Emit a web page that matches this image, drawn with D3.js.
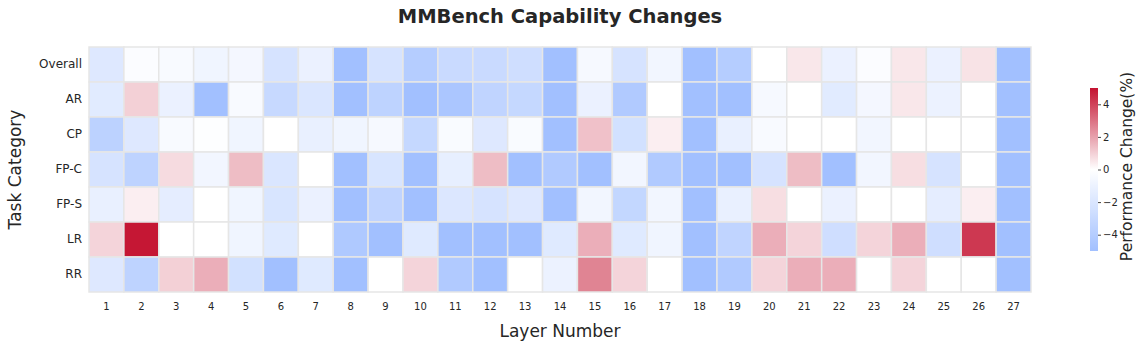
<!DOCTYPE html>
<html lang="en">
<head>
    <meta charset="UTF-8">
    <title>MMBench Capability Changes</title>
    <script src="https://d3js.org/d3.v7.min.js"></script>
    <style>
        body {
            margin: 0;
            background: #ffffff;
            font-family: "DejaVu Sans", sans-serif;
        }
    </style>
</head>
<body>
    <svg width="1142" height="348"></svg>

    <script>
        const layers = d3.range(1, 28);
        const categories = ["Overall", "AR", "CP", "FP-C", "FP-S", "LR", "RR"];
        const colorTicks = [-4, -2, 0, 2, 4];

        // performance change (%) per layer, one array per task category
        const overall = [-1.8, -0.2, -0.4, -0.8, -0.6, -2.2, -1.1, -5, -2.2, -4, -2.9, -2.9, -2.6, -5, -0.5, -2.2, -0.7, -5, -4, 0, 0.5, -1.1, -0.2, 0.5, -1.1, 0.6, -5];
        const ar = [-1.6, 1.0, -1.1, -5, -0.4, -3.0, -2.0, -5, -3.5, -5, -4.5, -3.4, -3.1, -5, -1.1, -4.2, 0, -5, -5, -0.5, 0, -1.6, -0.6, 0.5, -1.0, 0, -5];
        const cp = [-3.6, -1.8, -0.4, -0.1, -0.8, 0, -1.2, -0.8, -0.5, -3.1, -0.3, -1.8, -0.3, -5, 1.3, -2.4, 0.35, -5, -1.2, -0.4, 0, 0, -0.7, 0, 0, 0, -5];
        const fpc = [-2.2, -3.5, 0.75, -0.7, 1.4, -2.0, 0, -5, -2.1, -5, -1.3, 1.4, -5, -4.2, -5, -0.7, -4.2, -5, -5, -2.2, 1.4, -5, -0.7, 0.7, -2.2, 0, -5];
        const fps = [-1.2, 0.35, -1.4, 0, -0.8, -2.1, -1.1, -5, -3.4, -5, -1.9, -2.2, -1.8, -5, -0.7, -3.2, -0.7, -5, -1.2, 0.7, 0, -1.1, 0, 0, -1.4, 0.35, -5];
        const lr = [0.9, 4.9, 0, 0, -0.8, -1.7, 0, -4.3, -5, -1.7, -5, -5, -5, -1.7, 1.7, -1.7, -0.8, -5, -3.4, 1.7, 0.9, -2.6, 0.9, 1.7, -2.6, 4.2, -5];
        const rr = [-1.8, -3.5, 1.0, 1.7, -2.4, -5, -1.7, -5, 0, 0.9, -4.2, -5, 0, -1.0, 2.6, 0.9, 0, -5, -4.2, 0.9, 1.7, 1.7, 0, 0.9, 0, 0, -5];

        const rows = [overall, ar, cp, fpc, fps, lr, rr];
        const cells = [];
        rows.forEach((vals, r) => vals.forEach((v, i) => cells.push({ cat: categories[r], layer: layers[i], value: v })));

        const svg = d3.select("svg");
        const margin = { top: 47, left: 89, right: 111, bottom: 56 };
        const width = 1142, height = 348;

        const x = d3.scaleBand()
            .domain(layers)
            .range([margin.left, width - margin.right]);
        const y = d3.scaleBand()
            .domain(categories)
            .range([margin.top, height - margin.bottom]);

        const color = d3.scaleLinear()
            .domain([-5, 0, 5])
            .range(["#a2c0ff", "#ffffff", "#c41230"])
            .clamp(true);

        // title
        svg.append("text")
            .attr("x", (x.range()[0] + x.range()[1]) / 2)
            .attr("y", 23)
            .attr("text-anchor", "middle")
            .style("font-size", "19.5px")
            .style("font-weight", "bold")
            .style("fill", "#262626")
            .text("MMBench Capability Changes");

        // cells
        svg.append("g")
            .selectAll("rect")
            .data(cells)
            .join("rect")
            .attr("x", d => x(d.layer))
            .attr("y", d => y(d.cat))
            .attr("width", x.bandwidth())
            .attr("height", y.bandwidth())
            .attr("fill", d => color(d.value))
            .attr("stroke", "#e6e6e6")
            .attr("stroke-width", 1.5);

        // axes
        const xAxis = svg.append("g")
            .attr("transform", `translate(0,${height - margin.bottom})`)
            .call(d3.axisBottom(x).tickSize(0).tickPadding(11));
        xAxis.select(".domain").remove();
        xAxis.selectAll("text").style("font-size", "10px").style("fill", "#262626").style("font-family", "DejaVu Sans");

        const yAxis = svg.append("g")
            .attr("transform", `translate(${margin.left},0)`)
            .call(d3.axisLeft(y).tickSize(0).tickPadding(7));
        yAxis.select(".domain").remove();
        yAxis.selectAll("text").style("font-size", "12px").style("fill", "#262626").style("font-family", "DejaVu Sans");

        svg.append("text")
            .attr("x", (x.range()[0] + x.range()[1]) / 2)
            .attr("y", 337)
            .attr("text-anchor", "middle")
            .style("font-size", "17px")
            .style("fill", "#262626")
            .text("Layer Number");

        svg.append("text")
            .attr("transform", `translate(21,${(y.range()[0] + y.range()[1]) / 2}) rotate(-90)`)
            .attr("text-anchor", "middle")
            .style("font-size", "17px")
            .style("fill", "#262626")
            .text("Task Category");

        // colorbar
        const cb = { x: 1090, y: 88, w: 8, h: 163 };
        const cScale = d3.scaleLinear().domain([-5, 5]).range([cb.y + cb.h, cb.y]);

        const grad = svg.append("defs").append("linearGradient")
            .attr("id", "cbar")
            .attr("x1", "0%").attr("x2", "0%")
            .attr("y1", "100%").attr("y2", "0%");
        grad.selectAll("stop")
            .data(d3.range(-5, 5.01, 0.5))
            .join("stop")
            .attr("offset", d => ((d + 5) / 10 * 100) + "%")
            .attr("stop-color", d => color(d));

        svg.append("rect")
            .attr("x", cb.x).attr("y", cb.y)
            .attr("width", cb.w).attr("height", cb.h)
            .style("fill", "url(#cbar)");

        const cAxis = svg.append("g")
            .attr("transform", `translate(${cb.x + cb.w},0)`)
            .call(d3.axisRight(cScale).tickValues(colorTicks).tickSize(3).tickPadding(2));
        cAxis.select(".domain").remove();
        cAxis.selectAll("line").attr("stroke", "#444");
        cAxis.selectAll("text").style("font-size", "10px").style("fill", "#262626").style("font-family", "DejaVu Sans");

        svg.append("text")
            .attr("transform", `translate(1132,${cb.y + cb.h / 2 - 3}) rotate(-90)`)
            .attr("text-anchor", "middle")
            .style("font-size", "15.5px")
            .style("fill", "#262626")
            .text("Performance Change(%)");
    </script>
</body>
</html>
